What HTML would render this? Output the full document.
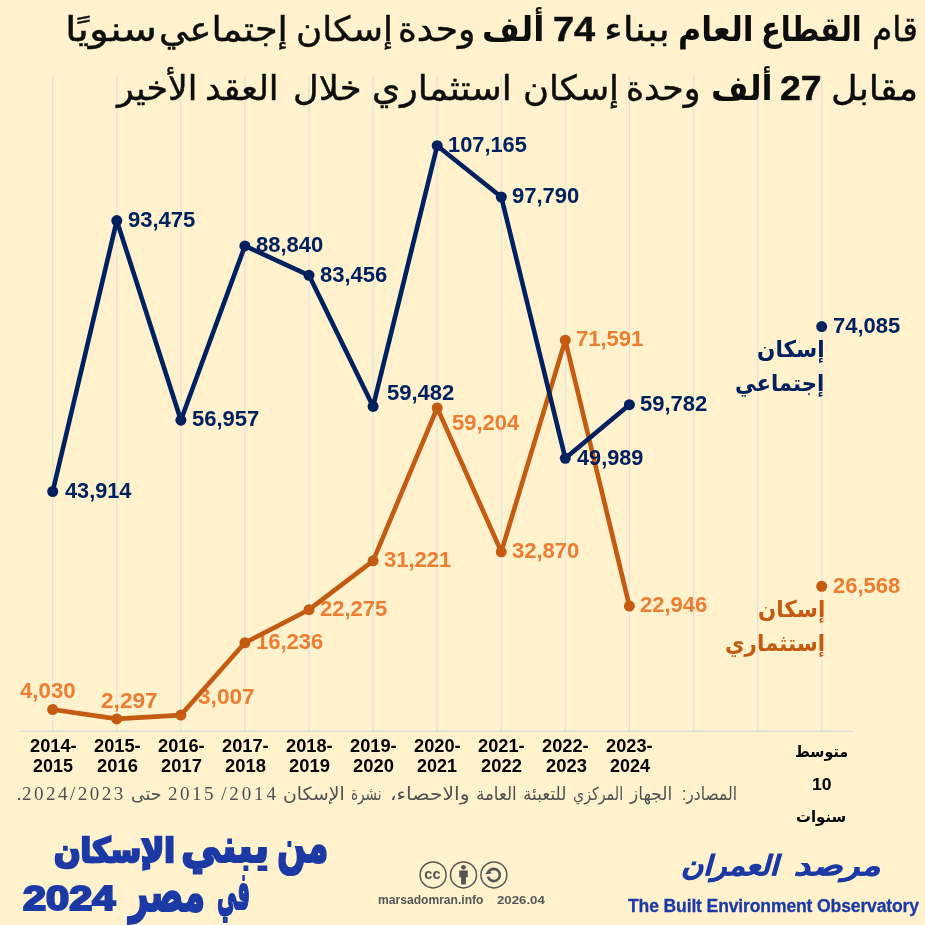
<!DOCTYPE html>
<html lang="ar"><head><meta charset="utf-8"><title>من يبني الإسكان في مصر 2024</title>
<style>
html,body{margin:0;padding:0;}
body{width:925px;height:925px;overflow:hidden;background:#FFF2CC;position:relative;font-family:"Liberation Sans","DejaVu Sans",sans-serif;}
#chart,.layer{position:absolute;left:0;top:0;}

.t{position:absolute;white-space:nowrap;transform-origin:0 0;line-height:1.2;font-family:"Liberation Sans","DejaVu Sans",sans-serif;}
.ar{direction:rtl;}

</style></head><body>
<svg class="layer" width="925" height="925" viewBox="0 0 925 925"><line x1="52.7" y1="75" x2="52.7" y2="731" stroke="#e4e0e0" stroke-width="1.2"/><line x1="116.8" y1="75" x2="116.8" y2="731" stroke="#e4e0e0" stroke-width="1.2"/><line x1="180.9" y1="75" x2="180.9" y2="731" stroke="#e4e0e0" stroke-width="1.2"/><line x1="244.9" y1="75" x2="244.9" y2="731" stroke="#e4e0e0" stroke-width="1.2"/><line x1="309.0" y1="75" x2="309.0" y2="731" stroke="#e4e0e0" stroke-width="1.2"/><line x1="373.1" y1="75" x2="373.1" y2="731" stroke="#e4e0e0" stroke-width="1.2"/><line x1="437.2" y1="75" x2="437.2" y2="731" stroke="#e4e0e0" stroke-width="1.2"/><line x1="501.3" y1="75" x2="501.3" y2="731" stroke="#e4e0e0" stroke-width="1.2"/><line x1="565.3" y1="75" x2="565.3" y2="731" stroke="#e4e0e0" stroke-width="1.2"/><line x1="629.4" y1="75" x2="629.4" y2="731" stroke="#e4e0e0" stroke-width="1.2"/><line x1="693.5" y1="75" x2="693.5" y2="731" stroke="#e4e0e0" stroke-width="1.2"/><line x1="757.6" y1="75" x2="757.6" y2="731" stroke="#e4e0e0" stroke-width="1.2"/><line x1="821.7" y1="75" x2="821.7" y2="731" stroke="#e4e0e0" stroke-width="1.2"/><line x1="20.7" y1="731.3" x2="853.6" y2="731.3" stroke="#d6d9e0" stroke-width="1.3"/></svg>
<div class="t" style="left:19.5px;top:678.2px;font-weight:bold;font-size:22.4px;color:#ED7D31;transform:scaleX(0.9927);">4,030</div>
<div class="t" style="left:101.1px;top:688.1px;font-weight:bold;font-size:22.4px;color:#ED7D31;transform:scaleX(1.0111);">2,297</div>
<div class="t" style="left:197.9px;top:684.0px;font-weight:bold;font-size:22.4px;color:#ED7D31;transform:scaleX(1.0111);">3,007</div>
<div class="t" style="left:255.8px;top:629.0px;font-weight:bold;font-size:22.4px;color:#ED7D31;transform:scaleX(0.9836);">16,236</div>
<div class="t" style="left:319.8px;top:595.9px;font-weight:bold;font-size:22.4px;color:#ED7D31;transform:scaleX(0.9836);">22,275</div>
<div class="t" style="left:383.9px;top:547.0px;font-weight:bold;font-size:22.4px;color:#ED7D31;transform:scaleX(0.9836);">31,221</div>
<div class="t" style="left:451.8px;top:409.9px;font-weight:bold;font-size:22.4px;color:#ED7D31;transform:scaleX(0.9836);">59,204</div>
<div class="t" style="left:512.1px;top:538.0px;font-weight:bold;font-size:22.4px;color:#ED7D31;transform:scaleX(0.9836);">32,870</div>
<div class="t" style="left:576.2px;top:326.4px;font-weight:bold;font-size:22.4px;color:#ED7D31;transform:scaleX(0.9836);">71,591</div>
<div class="t" style="left:640.2px;top:592.3px;font-weight:bold;font-size:22.4px;color:#ED7D31;transform:scaleX(0.9836);">22,946</div>
<div class="t" style="left:832.8px;top:573.0px;font-weight:bold;font-size:22.4px;color:#ED7D31;transform:scaleX(0.9836);">26,568</div>
<svg id="chart" width="925" height="925" viewBox="0 0 925 925">
<polyline fill="none" stroke="#C55A11" stroke-width="4.6" stroke-linejoin="round" stroke-linecap="round" points="52.7,709.5 116.8,718.9 180.9,715.1 244.9,642.8 309.0,609.7 373.1,560.8 437.2,407.9 501.3,551.8 565.3,340.2 629.4,606.1"/><circle cx="52.7" cy="709.5" r="5.5" fill="#C55A11"/><circle cx="116.8" cy="718.9" r="5.5" fill="#C55A11"/><circle cx="180.9" cy="715.1" r="5.5" fill="#C55A11"/><circle cx="244.9" cy="642.8" r="5.5" fill="#C55A11"/><circle cx="309.0" cy="609.7" r="5.5" fill="#C55A11"/><circle cx="373.1" cy="560.8" r="5.5" fill="#C55A11"/><circle cx="437.2" cy="407.9" r="5.5" fill="#C55A11"/><circle cx="501.3" cy="551.8" r="5.5" fill="#C55A11"/><circle cx="565.3" cy="340.2" r="5.5" fill="#C55A11"/><circle cx="629.4" cy="606.1" r="5.5" fill="#C55A11"/><polyline fill="none" stroke="#002060" stroke-width="4.6" stroke-linejoin="round" stroke-linecap="round" points="52.7,491.5 116.8,220.6 180.9,420.2 244.9,245.9 309.0,275.3 373.1,406.4 437.2,145.7 501.3,197.0 565.3,458.3 629.4,404.7"/><circle cx="52.7" cy="491.5" r="5.5" fill="#002060"/><circle cx="116.8" cy="220.6" r="5.5" fill="#002060"/><circle cx="180.9" cy="420.2" r="5.5" fill="#002060"/><circle cx="244.9" cy="245.9" r="5.5" fill="#002060"/><circle cx="309.0" cy="275.3" r="5.5" fill="#002060"/><circle cx="373.1" cy="406.4" r="5.5" fill="#002060"/><circle cx="437.2" cy="145.7" r="5.5" fill="#002060"/><circle cx="501.3" cy="197.0" r="5.5" fill="#002060"/><circle cx="565.3" cy="458.3" r="5.5" fill="#002060"/><circle cx="629.4" cy="404.7" r="5.5" fill="#002060"/><circle cx="821.7" cy="326.6" r="5.5" fill="#002060"/><circle cx="821.7" cy="586.3" r="5.5" fill="#C55A11"/>
<g fill="none" stroke="#555" stroke-width="1.45">
<circle cx="433.1" cy="874.9" r="13"/><circle cx="463.5" cy="874.9" r="13"/><circle cx="493.9" cy="874.9" r="13"/>
<path d="M489.2 870.9 A6.1 6.1 0 1 1 487.9 876.6" stroke-width="2.6"/>
</g>
<g fill="#555"><circle cx="463.5" cy="867.3" r="2.4"/><path d="M459.2 870.6h8.6v6.7h-1.9v7.2h-4.8v-7.2h-1.9z"/><path d="M485.2 874.3l3.1-4.9 3.4 4.1z"/></g>
<text x="432.4" y="879.3" text-anchor="middle" font-family="Liberation Sans, sans-serif" font-weight="bold" font-size="14.6" fill="#555">cc</text>
</svg>
<div class="t" style="left:64.5px;top:477.7px;font-weight:bold;font-size:22.4px;color:#002060;transform:scaleX(0.9691);">43,914</div>
<div class="t" style="left:127.6px;top:206.8px;font-weight:bold;font-size:22.4px;color:#002060;transform:scaleX(0.9836);">93,475</div>
<div class="t" style="left:191.7px;top:406.4px;font-weight:bold;font-size:22.4px;color:#002060;transform:scaleX(0.9836);">56,957</div>
<div class="t" style="left:255.8px;top:232.1px;font-weight:bold;font-size:22.4px;color:#002060;transform:scaleX(0.9836);">88,840</div>
<div class="t" style="left:319.8px;top:261.5px;font-weight:bold;font-size:22.4px;color:#002060;transform:scaleX(0.9836);">83,456</div>
<div class="t" style="left:387.4px;top:380.2px;font-weight:bold;font-size:22.4px;color:#002060;transform:scaleX(0.9836);">59,482</div>
<div class="t" style="left:448.0px;top:131.9px;font-weight:bold;font-size:22.4px;color:#002060;transform:scaleX(0.9747);">107,165</div>
<div class="t" style="left:512.1px;top:183.2px;font-weight:bold;font-size:22.4px;color:#002060;transform:scaleX(0.9836);">97,790</div>
<div class="t" style="left:577.1px;top:444.5px;font-weight:bold;font-size:22.4px;color:#002060;transform:scaleX(0.9691);">49,989</div>
<div class="t" style="left:640.2px;top:390.9px;font-weight:bold;font-size:22.4px;color:#002060;transform:scaleX(0.9836);">59,782</div>
<div class="t" style="left:832.8px;top:312.7px;font-weight:bold;font-size:22.4px;color:#002060;transform:scaleX(0.9836);">74,085</div>
<div class="t ar" style="left:871.6px;top:8.9px;font-size:34.3px;color:#0d0d0d;-webkit-text-stroke:0.45px #0d0d0d;transform:scaleX(0.9523);">قام</div>
<div class="t ar" style="left:761.2px;top:8.9px;font-weight:bold;font-size:34.1px;color:#0d0d0d;transform:scaleX(0.8518);">القطاع</div>
<div class="t ar" style="left:677.7px;top:8.9px;font-weight:bold;font-size:34.1px;color:#0d0d0d;transform:scaleX(0.9286);">العام</div>
<div class="t ar" style="left:603.6px;top:8.9px;font-size:34.3px;color:#0d0d0d;-webkit-text-stroke:0.45px #0d0d0d;transform:scaleX(1.1596);">ببناء</div>
<div class="t ar" style="left:552.9px;top:8.9px;font-weight:bold;font-size:34.1px;color:#0d0d0d;font-size:34.2px;-webkit-text-stroke:0.5px #0d0d0d;transform:scaleX(1.1081);">74</div>
<div class="t ar" style="left:482.1px;top:8.9px;font-weight:bold;font-size:34.1px;color:#0d0d0d;transform:scaleX(0.9583);">ألف</div>
<div class="t ar" style="left:398.2px;top:8.9px;font-size:34.3px;color:#0d0d0d;-webkit-text-stroke:0.45px #0d0d0d;transform:scaleX(1.0500);">وحدة</div>
<div class="t ar" style="left:295.5px;top:8.9px;font-size:34.3px;color:#0d0d0d;-webkit-text-stroke:0.45px #0d0d0d;transform:scaleX(1.0438);">إسكان</div>
<div class="t ar" style="left:159.3px;top:8.9px;font-size:34.3px;color:#0d0d0d;-webkit-text-stroke:0.45px #0d0d0d;transform:scaleX(1.0692);">إجتماعي</div>
<div class="t ar" style="left:64.5px;top:8.9px;font-size:34.3px;color:#0d0d0d;-webkit-text-stroke:0.45px #0d0d0d;transform:scaleX(1.1986);">سنويًا</div>
<div class="t ar" style="left:831.4px;top:67.6px;font-size:34.3px;color:#0d0d0d;-webkit-text-stroke:0.45px #0d0d0d;transform:scaleX(1.0662);">مقابل</div>
<div class="t ar" style="left:780.4px;top:67.6px;font-weight:bold;font-size:34.1px;color:#0d0d0d;font-size:34.2px;-webkit-text-stroke:0.5px #0d0d0d;transform:scaleX(1.0917);">27</div>
<div class="t ar" style="left:710.5px;top:67.6px;font-weight:bold;font-size:34.1px;color:#0d0d0d;transform:scaleX(0.9483);">ألف</div>
<div class="t ar" style="left:626.4px;top:67.6px;font-size:34.3px;color:#0d0d0d;-webkit-text-stroke:0.45px #0d0d0d;transform:scaleX(1.0086);">وحدة</div>
<div class="t ar" style="left:522.7px;top:67.6px;font-size:34.3px;color:#0d0d0d;-webkit-text-stroke:0.45px #0d0d0d;transform:scaleX(1.0337);">إسكان</div>
<div class="t ar" style="left:372.3px;top:67.6px;font-size:34.3px;color:#0d0d0d;-webkit-text-stroke:0.45px #0d0d0d;transform:scaleX(1.0539);">استثماري</div>
<div class="t ar" style="left:292.9px;top:67.6px;font-size:34.3px;color:#0d0d0d;-webkit-text-stroke:0.45px #0d0d0d;transform:scaleX(1.0286);">خلال</div>
<div class="t ar" style="left:204.5px;top:67.6px;font-size:34.3px;color:#0d0d0d;-webkit-text-stroke:0.45px #0d0d0d;transform:scaleX(1.0239);">العقد</div>
<div class="t ar" style="left:117.2px;top:67.6px;font-size:34.3px;color:#0d0d0d;-webkit-text-stroke:0.45px #0d0d0d;transform:scaleX(1.0089);">الأخير</div>
<div class="t ar" style="left:756.9px;top:335.8px;font-weight:bold;font-size:23px;color:#002060;transform:scaleX(0.9362);">إسكان</div>
<div class="t ar" style="left:734.9px;top:369.5px;font-weight:bold;font-size:23px;color:#002060;transform:scaleX(0.9213);">إجتماعي</div>
<div class="t ar" style="left:758.4px;top:595.5px;font-weight:bold;font-size:23px;color:#C55A11;transform:scaleX(0.9319);">إسكان</div>
<div class="t ar" style="left:725.0px;top:629.6px;font-weight:bold;font-size:23px;color:#C55A11;transform:scaleX(0.9305);">إستثماري</div>
<div class="t ar" style="left:795.2px;top:743.4px;font-weight:bold;font-size:15.5px;color:#000;transform:scaleX(0.9236);">متوسط</div>
<div class="t" style="left:811.5px;top:773.6px;font-weight:bold;font-size:17.4px;color:#000;transform:scaleX(1.0111);">10</div>
<div class="t ar" style="left:796.4px;top:807.6px;font-weight:bold;font-size:15.5px;color:#000;transform:scaleX(0.9600);">سنوات</div>
<div class="t" style="left:29.6px;top:736.2px;font-weight:bold;font-size:18px;color:#000;transform:scaleX(1.0136);">2014-</div>
<div class="t" style="left:32.9px;top:756.2px;font-weight:bold;font-size:18px;color:#000;transform:scaleX(0.9949);">2015</div>
<div class="t" style="left:93.7px;top:736.2px;font-weight:bold;font-size:18px;color:#000;transform:scaleX(1.0136);">2015-</div>
<div class="t" style="left:97.0px;top:756.2px;font-weight:bold;font-size:18px;color:#000;transform:scaleX(1.0211);">2016</div>
<div class="t" style="left:157.7px;top:736.2px;font-weight:bold;font-size:18px;color:#000;transform:scaleX(1.0136);">2016-</div>
<div class="t" style="left:161.0px;top:756.2px;font-weight:bold;font-size:18px;color:#000;transform:scaleX(1.0211);">2017</div>
<div class="t" style="left:221.8px;top:736.2px;font-weight:bold;font-size:18px;color:#000;transform:scaleX(1.0136);">2017-</div>
<div class="t" style="left:225.1px;top:756.2px;font-weight:bold;font-size:18px;color:#000;transform:scaleX(1.0211);">2018</div>
<div class="t" style="left:285.9px;top:736.2px;font-weight:bold;font-size:18px;color:#000;transform:scaleX(1.0136);">2018-</div>
<div class="t" style="left:289.2px;top:756.2px;font-weight:bold;font-size:18px;color:#000;transform:scaleX(1.0211);">2019</div>
<div class="t" style="left:350.0px;top:736.2px;font-weight:bold;font-size:18px;color:#000;transform:scaleX(1.0136);">2019-</div>
<div class="t" style="left:353.3px;top:756.2px;font-weight:bold;font-size:18px;color:#000;transform:scaleX(1.0211);">2020</div>
<div class="t" style="left:414.1px;top:736.2px;font-weight:bold;font-size:18px;color:#000;transform:scaleX(1.0136);">2020-</div>
<div class="t" style="left:417.4px;top:756.2px;font-weight:bold;font-size:18px;color:#000;transform:scaleX(0.9949);">2021</div>
<div class="t" style="left:478.1px;top:736.2px;font-weight:bold;font-size:18px;color:#000;transform:scaleX(1.0136);">2021-</div>
<div class="t" style="left:481.4px;top:756.2px;font-weight:bold;font-size:18px;color:#000;transform:scaleX(1.0211);">2022</div>
<div class="t" style="left:542.2px;top:736.2px;font-weight:bold;font-size:18px;color:#000;transform:scaleX(1.0136);">2022-</div>
<div class="t" style="left:545.5px;top:756.2px;font-weight:bold;font-size:18px;color:#000;transform:scaleX(1.0211);">2023</div>
<div class="t" style="left:606.3px;top:736.2px;font-weight:bold;font-size:18px;color:#000;transform:scaleX(1.0136);">2023-</div>
<div class="t" style="left:609.6px;top:756.2px;font-weight:bold;font-size:18px;color:#000;transform:scaleX(0.9949);">2024</div>
<div class="t ar" style="left:682.1px;top:784.2px;font-size:18px;color:#505050;transform:scaleX(0.8635);">المصادر:</div>
<div class="t ar" style="left:629.7px;top:784.2px;font-size:18px;color:#505050;transform:scaleX(0.9477);">الجهاز</div>
<div class="t ar" style="left:572.6px;top:784.2px;font-size:18px;color:#505050;transform:scaleX(0.7902);">المركزي</div>
<div class="t ar" style="left:523.1px;top:784.2px;font-size:18px;color:#505050;transform:scaleX(0.9419);">للتعبئة</div>
<div class="t ar" style="left:476.1px;top:784.2px;font-size:18px;color:#505050;transform:scaleX(0.9244);">العامة</div>
<div class="t ar" style="left:390.1px;top:784.2px;font-size:18px;color:#505050;transform:scaleX(1.1294);">والاحصاء،</div>
<div class="t ar" style="left:351.4px;top:784.2px;font-size:18px;color:#505050;transform:scaleX(0.7553);">نشرة</div>
<div class="t ar" style="left:283.4px;top:784.2px;font-size:18px;color:#505050;transform:scaleX(1.0446);">الإسكان</div>
<div class="t ar" style="left:221.2px;top:783.2px;font-family:'Liberation Serif',serif;font-size:19px;color:#505050;letter-spacing:2.88px;">2014/</div>
<div class="t" style="left:168.0px;top:783.2px;font-family:'Liberation Serif',serif;font-size:19px;color:#505050;letter-spacing:2.47px;">2015</div>
<div class="t ar" style="left:131.0px;top:784.2px;font-size:18px;color:#505050;transform:scaleX(0.9621);">حتى</div>
<div class="t" style="left:22.0px;top:783.2px;font-family:'Liberation Serif',serif;font-size:19px;color:#505050;letter-spacing:2.49px;">2024/2023</div>
<div class="t" style="left:16.8px;top:783.2px;font-family:'Liberation Serif',serif;font-size:19px;color:#505050;">.</div>
<div class="t ar" style="left:277.1px;top:811.8px;font-weight:bold;font-size:53px;color:#1C3AA5;-webkit-text-stroke:2.2px #1C3AA5;transform:scaleX(0.6395);">من</div>
<div class="t ar" style="left:181.0px;top:817.8px;font-weight:bold;font-size:47px;color:#1C3AA5;-webkit-text-stroke:2.2px #1C3AA5;transform:scaleX(0.8515);">يبني</div>
<div class="t ar" style="left:53.7px;top:830.8px;font-weight:bold;font-size:33.5px;color:#1C3AA5;-webkit-text-stroke:2.6px #1C3AA5;transform:scaleX(0.9297);">الإسكان</div>
<div class="t ar" style="left:216.6px;top:860.0px;font-weight:bold;font-size:52px;color:#1C3AA5;-webkit-text-stroke:2.2px #1C3AA5;transform:scaleX(0.3815);">في</div>
<div class="t ar" style="left:128.5px;top:859.5px;font-weight:bold;font-size:54px;color:#1C3AA5;-webkit-text-stroke:2.2px #1C3AA5;transform:scaleX(0.6325);">مصر</div>
<div class="t" style="left:22.6px;top:877.0px;font-weight:bold;font-size:35px;color:#1C3AA5;-webkit-text-stroke:2.2px #1C3AA5;transform:scaleX(1.1848);">2024</div>
<div class="t ar" style="left:793.6px;top:849.5px;font-family:'DejaVu Sans',sans-serif;font-weight:bold;font-style:italic;font-size:27px;color:#1C3AA5;-webkit-text-stroke:0.8px #1C3AA5;transform:scaleX(1.2985);">مرصد</div>
<div class="t ar" style="left:680.8px;top:849.5px;font-family:'DejaVu Sans',sans-serif;font-weight:bold;font-style:italic;font-size:27px;color:#1C3AA5;-webkit-text-stroke:0.8px #1C3AA5;transform:scaleX(1.1225);">العمران</div>
<div class="t" style="left:627.6px;top:894.9px;font-weight:bold;font-size:18.8px;letter-spacing:-0.15px;color:#1C3AA5;-webkit-text-stroke:0.3px #1C3AA5;transform:scaleX(0.9347);">The Built Environment Observatory</div>
<div class="t" style="left:377.8px;top:892.9px;font-weight:bold;font-size:12px;color:#555;transform:scaleX(1.0078);">marsadomran.info</div>
<div class="t" style="left:497.4px;top:892.9px;font-weight:bold;font-size:11.8px;color:#555;transform:scaleX(1.1209);">2026.04</div>
</body></html>
